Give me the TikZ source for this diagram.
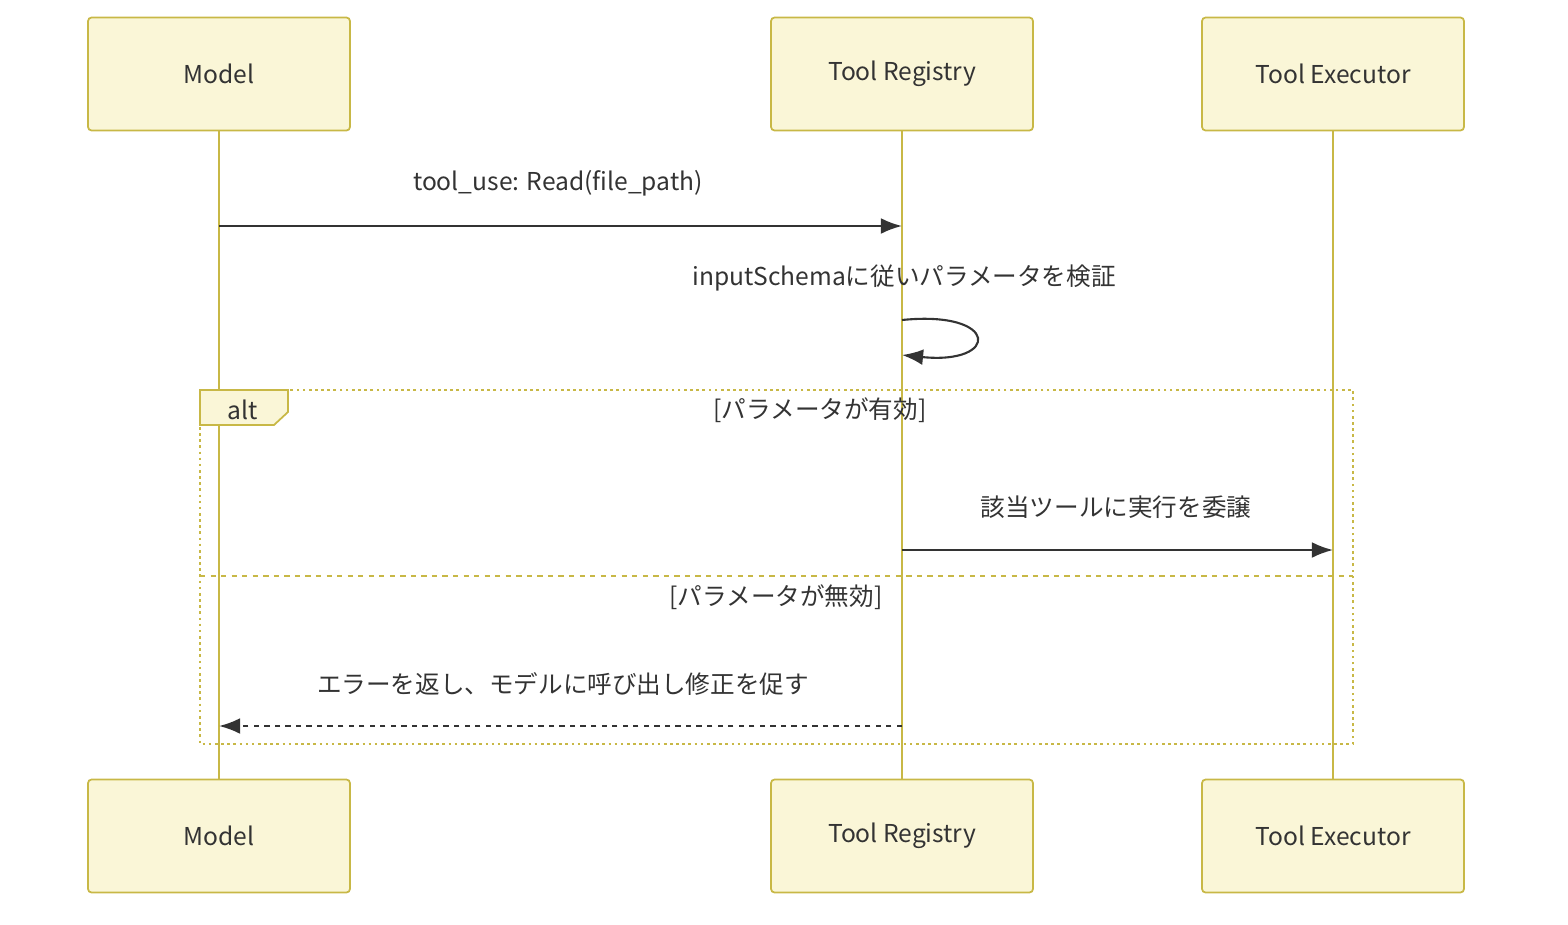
\documentclass[tikz,border=0pt]{standalone}
\usepackage{fontspec}
\setmainfont{Noto Sans CJK JP}
\usetikzlibrary{arrows.meta}
\definecolor{actfill}{HTML}{FAF6D7}
\definecolor{actline}{HTML}{C8B846}
\definecolor{txt}{HTML}{333333}
\tikzset{
  actor/.style={draw=actline,fill=actfill,line width=1pt,rounded corners=2pt,
    minimum width=5.24cm,minimum height=2.26cm,text=txt,font=\fontsize{14}{16}\selectfont},
  life/.style={actline,line width=1.6pt},
  msg/.style={txt,line width=1.2pt,-{Latex[length=12pt,width=9pt]}},
  lbl/.style={text=txt,font=\fontsize{14}{16}\selectfont},
  frame/.style={actline,line width=1.5pt,dotted}
}
\begin{document}
\begin{tikzpicture}[x=0.02cm,y=-0.02cm]
\useasboundingbox (0,0) rectangle (1568,924);

%actors
\node[actor] (mt) at (219,74) {Model};
\node[actor] (rt) at (902,74) {Tool Registry};
\node[actor] (et) at (1333,74) {Tool Executor};
\node[actor] (mb) at (219,836) {Model};
\node[actor] (rb) at (902,836) {Tool Registry};
\node[actor] (eb) at (1333,836) {Tool Executor};

%lifelines
\draw[life] (mt.south) -- (mb.north);
\draw[life] (rt.south) -- (rb.north);
\draw[life] (et.south) -- (eb.north);

%alt frame
\draw[frame] (200,390) rectangle (1353,744);
\draw[frame,dashed] (200,576) -- (1353,576);
\draw[actline,line width=1pt,fill=actfill] (200,390) -- (288,390) -- (288,412) -- (274,425) -- (200,425) -- cycle;
\node[lbl] (alt) at (243,410) {alt};
\node[lbl] (ok) at (820,410) {[パラメータが有効]};
\node[lbl] (ng) at (776,597) {[パラメータが無効]};

%messages
\coordinate (m1) at (219,226);
\coordinate (r1) at (902,226);
\draw[msg] (m1) -- (r1);
\node[lbl] (l1) at (558,183) {tool\_use: Read(file\_path)};

\node[lbl] (l2) at (904,278) {inputSchemaに従いパラメータを検証};
\coordinate (s1) at (902,320);
\coordinate (s2) at (902,355);
\draw[msg] (s1) .. controls (1000,310) and (1000,365) .. (s2);

\coordinate (r3) at (902,550);
\coordinate (e3) at (1333,550);
\draw[msg] (r3) -- (e3);
\node[lbl] (l3) at (1116,507) {該当ツールに実行を委譲};

\coordinate (r4) at (902,726);
\coordinate (m4) at (219,726);
\draw[msg,dashed] (r4) -- (m4);
\node[lbl] (l4) at (563,684) {エラーを返し、モデルに呼び出し修正を促す};
\end{tikzpicture}
\end{document}
